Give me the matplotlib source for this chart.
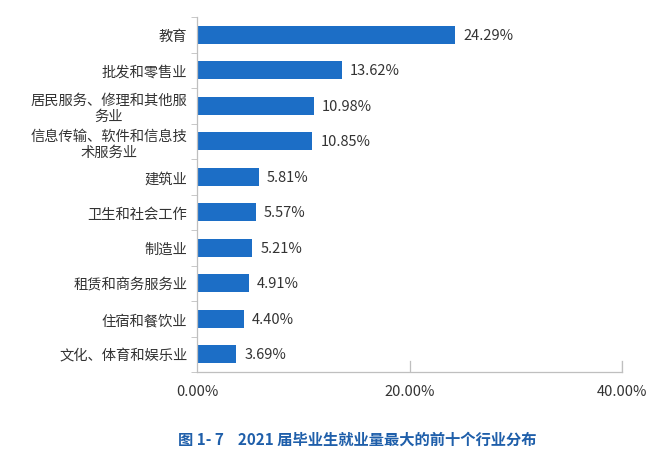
import matplotlib
matplotlib.use("Agg")
import matplotlib.pyplot as plt
import numpy as np

plt.rcParams['font.family'] = ['Noto Sans CJK SC', 'DejaVu Sans']

industries = ["教育", "批发和零售业", "居民服务、修理和其他服\n务业",
              "信息传输、软件和信息技\n术服务业", "建筑业", "卫生和社会工作",
              "制造业", "租赁和商务服务业", "住宿和餐饮业", "文化、体育和娱乐业"]
shares = [24.29, 13.62, 10.98, 10.85, 5.81, 5.57, 5.21, 4.91, 4.40, 3.69]
xticks = [0, 20, 40]
xtick_labels = ["0.00%", "20.00%", "40.00%"]
caption = "图 1- 7    2021 届毕业生就业量最大的前十个行业分布"

bar_color = "#1c6ec6"
grid_color = "#bfbfbf"
text_color = "#333333"

fig = plt.figure(figsize=(6.72, 4.56), dpi=100)
ax = fig.add_axes([197 / 672, 1 - 373 / 456, 425 / 672, 355 / 456])

y = np.arange(len(industries))
ax.barh(y, shares, height=0.5, color=bar_color)
for yi, v in zip(y, shares):
    ax.text(v + 0.75, yi, f"{v:.2f}%", va="center", ha="left",
            fontsize=10.5, color=text_color)

ax.set_xlim(0, 40)
ax.set_ylim(len(industries) - 0.5, -0.5)

ax.set_yticks(y)
ax.set_yticklabels(industries, fontsize=10.3, color=text_color,
                   multialignment="center", linespacing=1.15)
ax.set_yticks(np.arange(-0.5, len(industries)), minor=True)
ax.tick_params(axis="y", which="major", length=0, pad=7)
ax.tick_params(axis="y", which="minor", length=4, color=grid_color,
               direction="out")

ax.set_xticks(xticks)
ax.set_xticklabels(xtick_labels, fontsize=10.5, color=text_color)
ax.tick_params(axis="x", length=0, pad=9)
for xv in xticks[1:]:
    ax.axvline(xv, ymin=0, ymax=0.03, color=grid_color, lw=0.9)
ax.plot([1, 1], [0, 0.03], transform=ax.transAxes, color=grid_color, lw=0.9,
        clip_on=False)

for side in ["top", "right"]:
    ax.spines[side].set_visible(False)
for side in ["left", "bottom"]:
    ax.spines[side].set_color(grid_color)
    ax.spines[side].set_linewidth(0.9)

fig.text(178 / 672, 1 - 440 / 456, caption, fontsize=11, fontweight="bold",
         color="#1f5faa", va="center", ha="left")

fig.savefig("out.png", dpi=100)
